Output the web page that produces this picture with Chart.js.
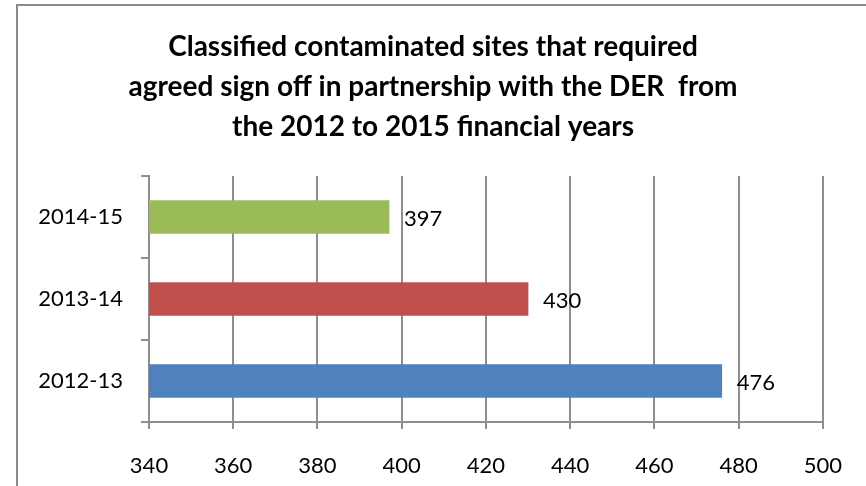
<!DOCTYPE html>
<html>
<head>
<meta charset="utf-8">
<script src="https://cdn.jsdelivr.net/npm/chart.js@4/dist/chart.umd.min.js"></script>
<style>
html,body{margin:0;padding:0;background:#fff;}
#wrap{position:relative;width:866px;height:486px;}
</style>
</head>
<body>
<div id="wrap"><canvas id="c" width="866" height="486"></canvas></div>
<script>
const titleLines = [
  "Classified contaminated sites that required",
  "agreed sign off in partnership with the DER  from",
  "the 2012 to 2015 financial years"
];
const categories = ["2014-15", "2013-14", "2012-13"];
const values = [397, 430, 476];
const barColors = ["#9BBB59", "#C0504D", "#4F81BD"];
const xMin = 340, xMax = 500, xStep = 20;

const FONT = "Lato, 'Open Sans', sans-serif";
const GRID = "#8e8e8e";

const frame = {
  id: "frame",
  beforeDraw(chart) {
    const ctx = chart.ctx;
    ctx.save();
    ctx.fillStyle = "#fff";
    ctx.fillRect(0, 0, chart.width, chart.height);
    ctx.strokeStyle = "#8a8a8a";
    ctx.lineWidth = 2;
    ctx.beginPath();
    ctx.moveTo(17, chart.height + 2);
    ctx.lineTo(17, 5);
    ctx.lineTo(chart.width + 2, 5);
    ctx.stroke();
    // title, centred on the whole frame
    ctx.font = "bold 28px " + FONT;
    ctx.fillStyle = "#000";
    ctx.textAlign = "center";
    ctx.textBaseline = "middle";
    titleLines.forEach((line, i) => {
      ctx.fillText(line, chart.width / 2, 47 + i * 40);
    });
    ctx.restore();
  }
};

const valueLabels = {
  id: "valueLabels",
  afterDatasetsDraw(chart) {
    const ctx = chart.ctx;
    const meta = chart.getDatasetMeta(0);
    ctx.save();
    ctx.font = "22px " + FONT;
    ctx.fillStyle = "#000";
    ctx.textAlign = "left";
    ctx.textBaseline = "middle";
    meta.data.forEach((bar, i) => {
      ctx.fillText(String(values[i]), bar.x + 15, bar.y + 2);
    });
    ctx.restore();
  }
};

new Chart(document.getElementById("c"), {
  type: "bar",
  data: {
    labels: categories,
    datasets: [{
      data: values,
      backgroundColor: barColors,
      borderWidth: 0,
      barThickness: 33
    }]
  },
  options: {
    indexAxis: "y",
    responsive: false,
    animation: false,
    devicePixelRatio: 1,
    layout: { padding: { left: 0, right: 43, top: 176, bottom: 0 } },
    plugins: {
      legend: { display: false },
      tooltip: { enabled: false },
      title: { display: false }
    },
    scales: {
      x: {
        type: "linear",
        min: xMin,
        max: xMax,
        ticks: {
          stepSize: xStep,
          color: "#000",
          font: { family: FONT, size: 22 },
          padding: 24
        },
        grid: { color: GRID, lineWidth: 2, tickLength: 7, drawOnChartArea: true },
        border: { display: true, color: GRID, width: 2 },
        afterFit(scale) { scale.height = 64; }
      },
      y: {
        type: "category",
        ticks: {
          color: "#000",
          font: { family: FONT, size: 22 },
          padding: 18
        },
        grid: { display: true, color: GRID, lineWidth: 2, tickLength: 8, drawOnChartArea: false, offset: true },
        border: { display: true, color: GRID, width: 2 },
        afterFit(scale) { scale.width = 149; }
      }
    }
  },
  plugins: [frame, valueLabels]
});
</script>
</body>
</html>
